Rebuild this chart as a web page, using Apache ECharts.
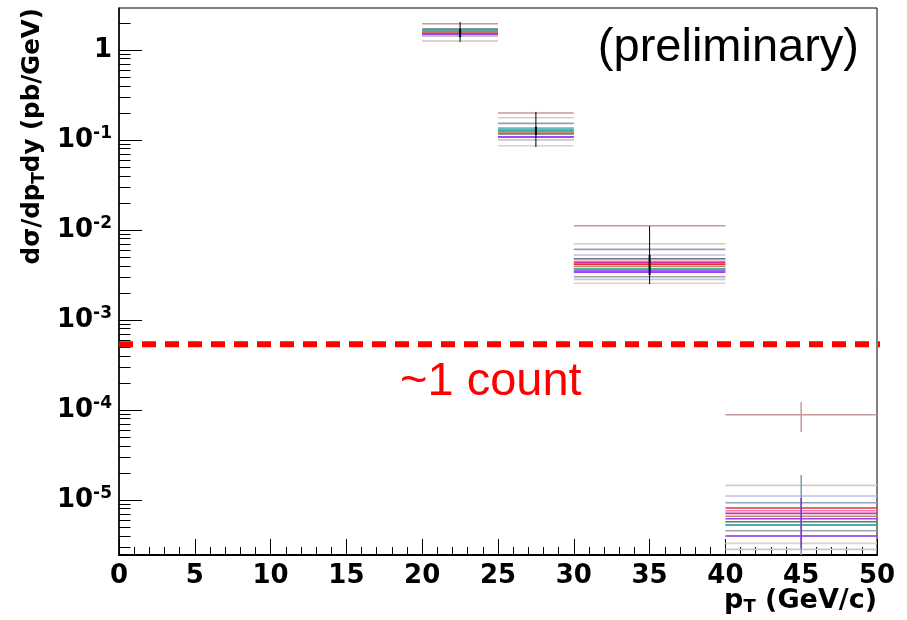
<!DOCTYPE html>
<html>
<head>
<meta charset="utf-8">
<script src="https://cdn.jsdelivr.net/npm/echarts@6/dist/echarts.min.js"></script>
<style>html,body{margin:0;padding:0;background:#fff}#c{width:907px;height:620px}</style>
</head>
<body>
<div id="c"></div>
<script>
// ---- data ----
const binLo = [20, 25, 30, 40];
const binHi = [25, 30, 40, 50];
const xTicks = [0, 5, 10, 15, 20, 25, 30, 35, 40, 45, 50];
const yDecades = [-5, -4, -3, -2, -1, 0];
const yMin = 2.45e-6, yMax = 2.93;
const countLevel = 5.37e-4;

const s01 = [1.96, 0.1995, 0.01116, 8.87e-5];
const s02 = [1.259, 0.177, 0.00704, 1.456e-5];
const s03 = [1.67, 0.153, 0.0061, 9.33e-6];
const s04 = [1.43, 0.1007, 0.00528, 1.107e-5];
const s05 = [1.71, 0.1166, 0.0048, 5.74e-6];
const s06 = [1.585, 0.125, 0.00449, 7.6e-6];
const s07 = [1.545, 0.1205, 0.00433, 7.11e-6];
const s08 = [1.585, 0.1205, 0.00416, 8.15e-6];
const s09 = [1.545, 0.1205, 0.00395, 6.59e-6];
const s10 = [1.506, 0.108, 0.0035, 3.98e-6];
const s11 = [1.468, 0.108, 0.00339, 6.2e-6];
const s12 = [1.43, 0.136, 0.00303, 4.56e-6];
const s13 = [1.625, 0.1325, 0.00369, 5.28e-6];
const s14 = [1.625, 0.128, 0.00369, 5.28e-6];
const s15 = [1.259, 0.0865, 0.00256, 3.3e-6];
const s16 = [1.43, 0.1007, 0.00283, 2.83e-6];

const seriesList = [s01, s02, s03, s04, s05, s06, s07, s08, s09, s10, s11, s12, s13, s14, s15, s16];
const seriesColors = ['#c49a9a', '#d6cebe', '#8ea4bc', '#c4bce0', '#687078', '#e878b0', '#d030a0', '#e83030',
  '#c08a68', '#8a2be2', '#a040f0', '#a0a4a8', '#40c0d0', '#40a890', '#d8d4c8', '#c8c8d4'];

// error bars: centre, low, high
const errX = [22.5, 27.5, 35, 45];
const errOuterLo = [1.23, 0.0836, 0.00251, null];
const errOuterHi = [2.05, 0.205, 0.01107, null];
const errInnerLo = [1.39, 0.1137, 0.00316, null];
const errInnerHi = [1.71, 0.1406, 0.00528, null];
const bin4Bars = [
  { lo: 1.0e-6, hi: 1.9e-5, color: '#7a9cac' },
  { lo: 2.9e-6, hi: 1.05e-5, color: '#8a2be2' },
  { lo: 5.7e-5, hi: 1.23e-4, color: '#c49a9a' }
];

// ---- build ----
const FONT = 'Liberation Sans';
const BFONT = 'DejaVu Sans';
const L = Math.log10;
const minorVals = [];
for (let n = -6; n <= 0; n++) for (let k = 2; k <= 9; k++) {
  const v = L(k) + n;
  if (v > L(yMin) && v < L(yMax)) minorVals.push(v);
}

function binRender(params, api) {
  const p0 = api.coord([api.value(0), api.value(2)]);
  const p1 = api.coord([api.value(1), api.value(2)]);
  return { type: 'line', shape: { x1: p0[0], y1: p0[1], x2: p1[0], y2: p1[1] },
    style: { stroke: api.visual('color'), lineWidth: 1.6 } };
}
function errRender(w) {
  return function (params, api) {
    const p0 = api.coord([api.value(0), api.value(1)]);
    const p1 = api.coord([api.value(0), api.value(2)]);
    return { type: 'line', shape: { x1: p0[0], y1: p0[1], x2: p1[0], y2: p1[1] },
      style: { stroke: api.visual('color'), lineWidth: w } };
  };
}

const series = [];
seriesList.forEach((arr, i) => {
  series.push({
    type: 'custom', renderItem: binRender, clip: true,
    itemStyle: { color: seriesColors[i] },
    encode: { x: [0, 1], y: 2 },
    data: arr.map((v, j) => [binLo[j], binHi[j], L(v)])
  });
});
const outer = [], inner = [];
errX.forEach((x, j) => {
  if (errOuterLo[j] != null) outer.push([x, L(errOuterLo[j]), L(errOuterHi[j])]);
  if (errInnerLo[j] != null) inner.push([x, L(errInnerLo[j]), L(errInnerHi[j])]);
});
series.push({ type: 'custom', renderItem: errRender(1), clip: true, itemStyle: { color: '#000' }, encode: { x: 0, y: [1, 2] }, data: outer });
series.push({ type: 'custom', renderItem: errRender(2), clip: true, itemStyle: { color: '#000' }, encode: { x: 0, y: [1, 2] }, data: inner });
bin4Bars.forEach(b => {
  series.push({ type: 'custom', renderItem: errRender(1.5), clip: true, itemStyle: { color: b.color },
    encode: { x: 0, y: [1, 2] }, data: [[errX[3], L(b.lo), L(b.hi)]] });
});
series.push({
  type: 'line', clip: false, symbol: 'none', silent: true,
  lineStyle: { color: '#ff0000', width: 6, type: [14, 9] },
  data: [[0, L(countLevel)], [50.7, L(countLevel)]]
});

const supFmt = v => {
  const n = Math.round(v);
  return n === 0 ? '{b|1}' : '{b|10}{s|' + n + '}';
};

const option = {
  animation: false,
  backgroundColor: '#fff',
  grid: { left: 119, right: 30, top: 8, bottom: 65, show: true, borderColor: '#000', borderWidth: 1 },
  xAxis: {
    type: 'value', min: 0, max: 50, interval: 5,
    axisLine: { show: true, onZero: false, lineStyle: { color: '#000', width: 2 } },
    axisTick: { show: true, inside: true, length: 16, lineStyle: { color: '#000', width: 1 }, customValues: xTicks },
    minorTick: { show: true, splitNumber: 5, length: 8, lineStyle: { color: '#000', width: 1 } },
    splitLine: { show: false },
    axisLabel: { customValues: xTicks, margin: 8, color: '#000', fontFamily: BFONT, fontWeight: 'bold', fontSize: 26 }
  },
  yAxis: [{
    type: 'value', min: L(yMin), max: L(yMax),
    axisLine: { show: true, onZero: false, lineStyle: { color: '#000', width: 1.5 } },
    axisTick: { show: true, inside: true, length: 23, lineStyle: { color: '#000', width: 1 }, customValues: yDecades },
    splitLine: { show: false },
    axisLabel: {
      customValues: yDecades, margin: 7, formatter: supFmt,
      rich: {
        b: { fontFamily: BFONT, fontWeight: 'bold', fontSize: 26, color: '#000', lineHeight: 30 },
        s: { fontFamily: BFONT, fontWeight: 'bold', fontSize: 17, color: '#000', lineHeight: 17, verticalAlign: 'top' }
      }
    }
  }, {
    type: 'value', min: L(yMin), max: L(yMax), position: 'left',
    axisLine: { show: false, onZero: false },
    axisTick: { show: true, inside: true, length: 11.5, lineStyle: { color: '#000', width: 1 }, customValues: minorVals },
    splitLine: { show: false },
    axisLabel: { show: false }
  }],
  series: series,
  graphic: [
    { type: 'text', x: 33, y: 8, rotation: Math.PI / 2, silent: true,
      style: { text: '{t|dσ/dp}{u|T}{t|dy (pb/GeV)}', align: 'right', verticalAlign: 'middle',
        rich: {
          t: { fontFamily: BFONT, fontWeight: 'bold', fontSize: 24.5, fill: '#000', lineHeight: 30 },
          u: { fontFamily: BFONT, fontWeight: 'bold', fontSize: 17, fill: '#000', lineHeight: 17, verticalAlign: 'bottom' }
        } } },
    { type: 'text', x: 877, y: 601, silent: true,
      style: { text: '{t|p}{u|T}{t| (GeV/c)}', align: 'right', verticalAlign: 'middle',
        rich: {
          t: { fontFamily: BFONT, fontWeight: 'bold', fontSize: 27, fill: '#000', lineHeight: 30 },
          u: { fontFamily: BFONT, fontWeight: 'bold', fontSize: 18, fill: '#000', lineHeight: 18, verticalAlign: 'bottom' }
        } } },
    { type: 'text', x: 859, y: 48, silent: true,
      style: { text: '(preliminary)', align: 'right', verticalAlign: 'middle', fontFamily: FONT, fontSize: 47, fill: '#000' } },
    { type: 'text', x: 400, y: 382, silent: true,
      style: { text: '~1 count', align: 'left', verticalAlign: 'middle', fontFamily: FONT, fontSize: 47, fill: '#ff0000' } }
  ]
};
echarts.init(document.getElementById('c')).setOption(option);
</script>
</body>
</html>
